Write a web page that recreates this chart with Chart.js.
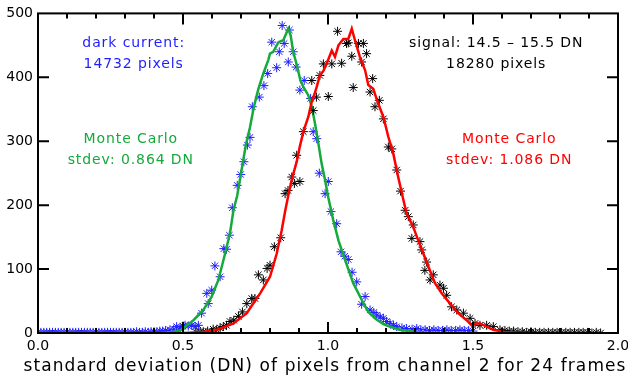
<!DOCTYPE html>
<html>
<head>
<meta charset="utf-8">
<script src="https://cdn.jsdelivr.net/npm/chart.js@4.4.1/dist/chart.umd.min.js"></script>
<style>
  body { margin: 0; background: #fff; }
</style>
</head>
<body>
<canvas id="graficoStdev" width="628" height="375"></canvas>
<script>
//DATA
// dark current histogram (blue stars), [stdev DN, pixel count]
const darkPoints = [
    [0.00,1],[0.01,1],[0.02,1],[0.03,1],[0.04,1],[0.05,1],[0.06,1],[0.07,1],[0.08,1],[0.09,1],
    [0.10,1],[0.11,1],[0.12,1],[0.13,1],[0.14,1],[0.15,1],[0.16,1],[0.17,1],[0.18,1],[0.19,1],
    [0.20,1],[0.21,1],[0.22,1],[0.23,1],[0.24,1],[0.25,1],[0.26,1],[0.27,1],[0.28,1],[0.29,1],
    [0.30,1],[0.31,1],[0.32,1],[0.33,1],[0.34,2],[0.35,1],[0.36,1],[0.37,2],[0.38,1],[0.39,2],
    [0.40,2],[0.41,2],[0.42,3],[0.43,3],[0.44,4],[0.455,5],[0.468,6],[0.478,10],[0.490,8],[0.500,11],
    [0.507,12],[0.518,11],[0.530,12],[0.542,10],[0.553,12],[0.564,31],[0.582,62],[0.587,46],[0.599,67],[0.610,105],
    [0.628,88],[0.641,132],[0.650,131],[0.660,153],[0.670,196],[0.687,231],[0.699,248],[0.710,268],[0.722,294],[0.731,306],
    [0.739,354],[0.763,369],[0.779,387],[0.792,406],[0.806,455],[0.823,415],[0.832,440],[0.842,481],[0.849,453],[0.863,424],
    [0.867,474],[0.880,440],[0.890,416],[0.903,380],[0.918,395],[0.940,367],[0.949,315],[0.961,304],[0.970,250],[0.990,218],
    [1.001,237],[1.010,190],[1.030,171],[1.045,127],[1.058,120],[1.070,115],[1.083,95],[1.099,80],[1.116,45],[1.128,57],
    [1.145,36],[1.158,32],[1.168,28],[1.180,25],[1.191,23],[1.202,18],[1.214,15],[1.226,12],[1.237,10],[1.255,8],
    [1.271,7],[1.290,6],[1.306,7],[1.320,5],[1.335,5],[1.350,4],[1.365,5],[1.380,4],[1.395,4],[1.410,5],
    [1.425,4],[1.440,4],[1.455,5],[1.470,4],[1.485,4],[1.500,3]
];

// signal 14.5 - 15.5 DN histogram (black stars)
const signalPoints = [
    [0.545,1],[0.559,2],[0.570,2],[0.585,3],[0.604,6],[0.616,5],[0.628,8],[0.639,10],[0.650,12],[0.662,18],
    [0.675,20],[0.691,26],[0.705,33],[0.720,46],[0.737,54],[0.748,54],[0.760,91],[0.777,83],[0.790,101],[0.800,106],
    [0.815,135],[0.837,149],[0.852,218],[0.862,223],[0.875,244],[0.884,234],[0.892,278],[0.903,237],[0.915,315],[0.944,395],
    [0.949,348],[0.960,369],[0.972,403],[0.984,421],[1.001,370],[1.013,421],[1.033,472],[1.047,422],[1.064,453],[1.070,454],
    [1.082,433],[1.087,384],[1.105,453],[1.116,424],[1.122,453],[1.133,437],[1.145,377],[1.154,398],[1.162,354],[1.177,364],
    [1.191,335],[1.208,291],[1.220,288],[1.237,255],[1.250,222],[1.266,192],[1.277,182],[1.289,148],[1.294,169],[1.317,143],
    [1.323,130],[1.334,98],[1.340,111],[1.352,83],[1.363,91],[1.386,75],[1.398,70],[1.409,59],[1.426,41],[1.444,36],
    [1.467,31],[1.490,23],[1.507,15],[1.524,12],[1.547,12],[1.570,10],[1.593,5],[1.610,4],[1.625,3],[1.640,3],
    [1.655,2],[1.670,2],[1.685,1],[1.700,2],[1.715,1],[1.730,1],[1.745,1],[1.760,1],[1.775,1],[1.790,1],
    [1.805,1],[1.820,1],[1.835,1],[1.850,1],[1.865,1],[1.880,1],[1.895,1],[1.910,0],[1.925,1],[1.940,0]
];

// Monte Carlo, stdev 0.864 DN (green)
const monteDark = [
    [0.00,0],[0.42,0],[0.46,1],[0.49,4],[0.50,7],[0.536,20],[0.570,36],[0.599,57],[0.622,83],[0.645,124],
    [0.662,156],[0.674,192],[0.687,215],[0.702,255],[0.717,295],[0.731,322],[0.745,355],[0.760,382],[0.777,406],[0.794,427],
    [0.800,437],[0.811,440],[0.829,455],[0.846,458],[0.858,471],[0.863,476],[0.871,466],[0.880,440],[0.892,420],[0.905,395],
    [0.915,385],[0.932,372],[0.944,354],[0.955,328],[0.967,296],[0.978,265],[0.990,239],[1.001,212],[1.018,177],[1.036,145],
    [1.053,122],[1.070,100],[1.087,78],[1.116,52],[1.139,33],[1.165,22],[1.191,14],[1.220,9],[1.248,5],[1.280,3],
    [1.306,1],[1.350,0],[1.500,0]
];

// Monte Carlo, stdev 1.086 DN (red)
const monteSignal = [
    [0.35,0],[0.50,0],[0.56,1],[0.616,5],[0.674,15],[0.720,31],[0.745,48],[0.766,62],[0.800,88],[0.823,124],
    [0.840,160],[0.852,190],[0.863,215],[0.875,240],[0.892,268],[0.903,292],[0.915,315],[0.932,338],[0.944,362],[0.955,376],
    [0.961,385],[0.972,403],[0.984,410],[0.995,421],[1.013,442],[1.024,432],[1.036,450],[1.053,460],[1.070,460],[1.082,476],
    [1.093,458],[1.110,432],[1.128,411],[1.139,388],[1.156,382],[1.173,359],[1.191,338],[1.208,307],[1.225,281],[1.242,244],
    [1.260,208],[1.271,187],[1.294,166],[1.311,145],[1.329,124],[1.346,104],[1.369,78],[1.392,62],[1.421,46],[1.449,31],
    [1.478,20],[1.495,12],[1.510,15],[1.524,15],[1.570,5],[1.616,1],[1.70,0],[1.90,0]
];

const xTickLabels = ['0.0', '0.5', '1.0', '1.5', '2.0'];
const xTitle = 'standard deviation (DN) of pixels from channel 2 for 24 frames';

// text written inside the plot, placed in data units
const notes = [
    { text: 'dark current:', x: 0.330, y: 447, color: 'rgb(30,30,255)' },
    { text: '14732 pixels', x: 0.330, y: 414, color: 'rgb(30,30,255)' },
    { text: 'Monte Carlo', x: 0.320, y: 298, color: 'rgb(20,170,60)' },
    { text: 'stdev: 0.864 DN', x: 0.320, y: 264, color: 'rgb(20,170,60)' },
    { text: 'signal: 14.5 \u2013 15.5 DN', x: 1.580, y: 447, color: '#000' },
    { text: '18280 pixels', x: 1.580, y: 414, color: '#000' },
    { text: 'Monte Carlo', x: 1.625, y: 298, color: 'rgb(255,0,0)' },
    { text: 'stdev: 1.086 DN', x: 1.625, y: 264, color: 'rgb(255,0,0)' }
];

//GENERAL FUNCTIONS
function toXY(list) {
    return list.map(p => ({ x: p[0], y: p[1] }));
}

const FONT = '"DejaVu Sans", sans-serif';

// frame, inward ticks, x labels, title and notes
const framePlugin = {
    id: 'idlFrame',
    afterDatasetsDraw(chart) {
        const ctx = chart.ctx;
        const a = chart.chartArea;
        const xs = chart.scales.x;
        const ys = chart.scales.y;
        ctx.save();
        ctx.strokeStyle = '#000';
        ctx.lineWidth = 2;
        ctx.strokeRect(a.left, a.top, a.right - a.left, a.bottom - a.top);

        ctx.beginPath();
        for (let i = 0; i <= 20; i++) {
            const px = xs.getPixelForValue(i / 10);
            const len = i % 5 === 0 ? 11 : 5;
            ctx.moveTo(px, a.bottom); ctx.lineTo(px, a.bottom - len);
            ctx.moveTo(px, a.top); ctx.lineTo(px, a.top + len);
        }
        for (let v = 100; v < 500; v += 100) {
            const py = ys.getPixelForValue(v);
            ctx.moveTo(a.left, py); ctx.lineTo(a.left + 11, py);
            ctx.moveTo(a.right, py); ctx.lineTo(a.right - 11, py);
        }
        ctx.stroke();

        ctx.fillStyle = '#000';
        ctx.textAlign = 'center';
        ctx.textBaseline = 'alphabetic';
        ctx.font = '14px ' + FONT;
        xTickLabels.forEach(t => {
            ctx.fillText(t, xs.getPixelForValue(parseFloat(t)), 350);
        });
        ctx.font = '17px ' + FONT;
        ctx.letterSpacing = '1.1px';
        ctx.fillText(xTitle, 325, 371);

        ctx.font = '14px ' + FONT;
        ctx.letterSpacing = '0.9px';
        notes.forEach(n => {
            ctx.fillStyle = n.color;
            ctx.fillText(n.text, xs.getPixelForValue(n.x), ys.getPixelForValue(n.y));
        });
        ctx.restore();
    }
};

//CHART
const graphicStdev = document.getElementById('graficoStdev');

const graphicForStdev = new Chart(graphicStdev, {
    type: 'scatter',
    data: {
        datasets: [{
            label: 'Monte Carlo signal',
            data: toXY(monteSignal),
            showLine: true,
            borderColor: 'rgb(255,0,0)',
            borderWidth: 2.5,
            pointRadius: 0
        }, {
            label: 'signal',
            data: toXY(signalPoints),
            pointStyle: 'star',
            pointRadius: 4.5,
            borderColor: '#000',
            borderWidth: 1
        }, {
            label: 'Monte Carlo dark',
            data: toXY(monteDark),
            showLine: true,
            borderColor: 'rgb(20,170,60)',
            borderWidth: 2.5,
            pointRadius: 0
        }, {
            label: 'dark current',
            data: toXY(darkPoints),
            pointStyle: 'star',
            pointRadius: 4.5,
            borderColor: 'rgb(30,30,255)',
            borderWidth: 1
        }]
    },
    options: {
        responsive: false,
        animation: false,
        layout: { padding: { left: 0, right: 10, top: 13, bottom: 0 } },
        plugins: { legend: { display: false }, tooltip: { enabled: false } },
        scales: {
            x: {
                type: 'linear',
                min: 0,
                max: 2,
                grid: { display: false },
                border: { display: false },
                ticks: { display: false },
                afterFit: s => { s.height = 42; }
            },
            y: {
                min: 0,
                max: 500,
                grid: { display: false, drawTicks: false },
                border: { display: false },
                ticks: {
                    stepSize: 100,
                    padding: 5,
                    color: '#000',
                    font: { family: FONT, size: 14 }
                },
                afterFit: s => { s.width = 38; }
            }
        }
    },
    plugins: [framePlugin]
});
</script>
</body>
</html>
